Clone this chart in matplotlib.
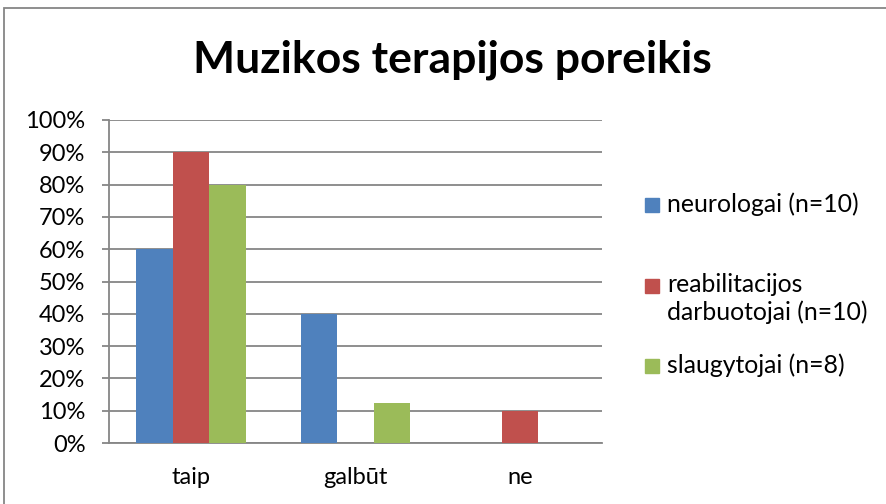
import numpy as np
import matplotlib.pyplot as plt
from matplotlib.patches import Rectangle

categories = ["taip", "galbūt", "ne"]
series_names = ["neurologai (n=10)", "reabilitacijos\ndarbuotojai (n=10)", "slaugytojai (n=8)"]
neurologai = [60, 40, 0]
reabilitacijos = [90, 0, 10]
slaugytojai = [80, 12.5, 0]
values = [neurologai, reabilitacijos, slaugytojai]
colors = ["#4F81BD", "#C0504D", "#9BBB59"]

plt.rcParams['font.family'] = ['Lato', 'DejaVu Sans']

W, H = 887, 504
fig = plt.figure(figsize=(W / 100, H / 100), dpi=100)

# axes box in pixel coords (left, top, right, bottom)
l, t, r, b = 109, 120, 602, 443
ax = fig.add_axes([l / W, 1 - b / H, (r - l) / W, (b - t) / H])

x = np.arange(len(categories))
bw = 1 / 4.5
for i, vals in enumerate(values):
    ax.bar(x + (i - 1) * bw, vals, width=bw, color=colors[i], zorder=3)

ax.set_xlim(-0.5, len(categories) - 0.5)
ax.set_ylim(0, 100)
ax.set_yticks(np.arange(0, 101, 10))
ax.set_yticklabels([f"{v}%" for v in range(0, 101, 10)], fontsize=17)
ax.set_xticks(x)
ax.set_xticklabels(categories, fontsize=17)
ax.yaxis.grid(True, color="#868686", linewidth=1.3, zorder=0)
for s in ["top", "right"]:
    ax.spines[s].set_visible(False)
for s in ["left", "bottom"]:
    ax.spines[s].set_color("#868686")
    ax.spines[s].set_linewidth(1.3)
ax.tick_params(axis="y", length=5, color="#868686", width=1.3, pad=12)
ax.tick_params(axis="x", length=0, pad=17)

fig.text(452 / W, 1 - 60 / H, "Muzikos terapijos poreikis", ha="center", va="center",
         fontsize=32, fontweight="bold")

# legend
for i, (name, c) in enumerate(zip(series_names, colors)):
    yc = 205 + 80.5 * i
    fig.patches.append(Rectangle((645 / W, 1 - (yc + 7) / H), 14 / W, 14 / H,
                                 transform=fig.transFigure, color=c, figure=fig))
    fig.text(667 / W, 1 - (yc - 13) / H, name, ha="left", va="top", fontsize=17.8,
             linespacing=1.25)

# chart frame
fig.patches.append(Rectangle((4 / W, -0.01), (W - 4) / W, 1 - 8 / H + 0.01,
                             transform=fig.transFigure, fill=False,
                             edgecolor="#868686", linewidth=1.3, figure=fig))

fig.savefig("out.png", dpi=100)
